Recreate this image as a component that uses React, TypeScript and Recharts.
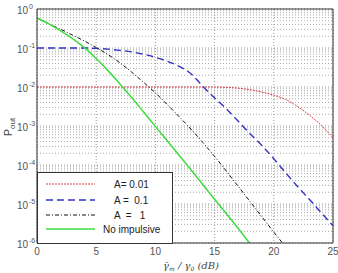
import type { FC } from 'react';
import {
  LineChart,
  Line,
  XAxis,
  YAxis,
  CartesianGrid,
  ReferenceLine,
  Legend,
} from 'recharts';

// SNR axis (dB)
const snrDb = [0, 1, 2, 3, 4, 5, 6, 7, 8, 9, 10, 11, 12, 13, 14, 15, 16, 17, 18, 19, 20, 21, 22, 23, 24, 25];

// log10(Pout), one entry per snrDb point
const logA001 = [-2, -2, -2, -2, -2, -2, -2, -2, -2, -2, -2, -2, -2, -2, -2, -2, -2.01, -2.03, -2.07, -2.13, -2.21, -2.32, -2.5, -2.72, -2.98, -3.3];
const logA01 = [-1, -1, -1, -1, -1, -1.01, -1.03, -1.06, -1.1, -1.16, -1.24, -1.34, -1.47, -1.66, -1.98, -2.28, -2.56, -2.88, -3.2, -3.5, -3.84, -4.2, -4.55, -4.88, -5.22, -5.56];
const logA1 = [-0.23, -0.38, -0.52, -0.67, -0.82, -0.99, -1.17, -1.38, -1.62, -1.88, -2.15, -2.45, -2.76, -3.08, -3.42, -3.78, -4.16, -4.55, -4.94, -5.33, -5.72, -6.1, null, null, null, null];
const logNoImp = [-0.23, -0.38, -0.56, -0.76, -0.99, -1.27, -1.58, -1.92, -2.27, -2.64, -3.01, -3.38, -3.75, -4.12, -4.5, -4.88, -5.25, -5.63, -6.02, null, null, null, null, null, null, null];

const xTicks = [0, 5, 10, 15, 20, 25];
const yTicks = [1e-6, 1e-5, 1e-4, 1e-3, 1e-2, 1e-1, 1];

const series = [
  { key: 'a001', name: 'A= 0.01', color: '#d8404c', dash: '2 1', width: 1, textX: 77 },
  { key: 'a01', name: 'A =  0.1', color: '#3232c4', dash: '7 4', width: 1.4, textX: 77 },
  { key: 'a1', name: 'A  =   1', color: '#111111', dash: '4 2 1 2', width: 1, textX: 77 },
  { key: 'none', name: 'No impulsive', color: '#3fdc3f', dash: undefined, width: 1.5, textX: 66 },
];

const toP = (v: number | null) => (v === null ? null : Math.pow(10, v));

const data = snrDb.map((snr, i) => ({
  snr,
  a001: toP(logA001[i]),
  a01: toP(logA01[i]),
  a1: toP(logA1[i]),
  none: toP(logNoImp[i]),
}));

// minor log grid lines (2..9 x 10^n)
const minorY: number[] = [];
for (let e = -6; e < 0; e++) {
  for (let k = 2; k <= 9; k++) minorY.push(k * Math.pow(10, e));
}

const tickFont = '"Liberation Sans", Arial, sans-serif';

const LogTick: FC<any> = ({ x, y, payload }) => {
  const exp = Math.round(Math.log10(payload.value));
  return (
    <g fill="#555" fontFamily={tickFont}>
      <text x={x - 1} y={y + 4.5} textAnchor="end" fontSize={10}>
        10
      </text>
      <text x={x} y={y} fontSize={7}>
        {exp}
      </text>
    </g>
  );
};

const XLabel: FC<any> = () => (
  <text
    x={191}
    y={269}
    textAnchor="middle"
    fontFamily='"DejaVu Serif", serif'
    fontStyle="italic"
    fontSize={10}
    fill="#444"
  >
    <tspan>γ̄</tspan>
    <tspan fontSize={6} dy={2}>m</tspan>
    <tspan dy={-2}> / γ</tspan>
    <tspan fontSize={6} dy={2}>0</tspan>
    <tspan dy={-2}>  (dB)</tspan>
  </text>
);

const YLabel: FC<any> = () => (
  <text
    transform="translate(12,127) rotate(-90)"
    textAnchor="middle"
    fontFamily={tickFont}
    fontSize={11}
    fill="#444"
  >
    <tspan>P</tspan>
    <tspan fontSize={8} dy={3}>out</tspan>
  </text>
);

const LegendBox: FC = () => (
  <svg width={136} height={72} style={{ display: 'block' }}>
    <rect x={0.5} y={0.5} width={135} height={71} fill="#fff" stroke="#333" />
    {series.map((s, i) => {
      const y = [12, 28, 43, 57][i];
      return (
        <g key={s.key}>
          <line x1={9} x2={58} y1={y} y2={y} stroke={s.color} strokeWidth={s.width} strokeDasharray={s.dash} />
          <text
            x={s.textX}
            y={y + 4}
            fontSize={10}
            fontFamily={tickFont}
            fill="#222"
            style={{ whiteSpace: 'pre' }}
          >
            {s.name}
          </text>
        </g>
      );
    })}
  </svg>
);

const App: FC = () => {
  return (
    <div style={{ position: 'absolute', left: 0, top: 0, background: '#fff' }}>
      <LineChart width={338} height={273} data={data} margin={{ top: 9, right: 5, bottom: 0, left: 0 }}>
        <CartesianGrid stroke="#999" strokeDasharray="1 2" />
        {minorY.map((v) => (
          <ReferenceLine key={v} y={v} stroke="#aaa" strokeDasharray="1 2" />
        ))}
        <XAxis
          dataKey="snr"
          type="number"
          domain={[0, 25]}
          ticks={xTicks}
          height={30}
          tickSize={3}
          tickLine={false}
          axisLine={{ stroke: '#333' }}
          tick={{ fontSize: 10, fill: '#555', fontFamily: tickFont }}
          label={<XLabel />}
        />
        <YAxis
          type="number"
          scale="log"
          domain={[1e-6, 1]}
          ticks={yTicks}
          allowDataOverflow
          width={37}
          tickLine={false}
          axisLine={{ stroke: '#333' }}
          tick={<LogTick />}
          label={<YLabel />}
        />
        <ReferenceLine y={1} stroke="#333" />
        <ReferenceLine x={25} stroke="#333" />
        {series.map((s) => (
          <Line
            key={s.key}
            dataKey={s.key}
            name={s.name}
            type="monotone"
            stroke={s.color}
            strokeWidth={s.width}
            strokeDasharray={s.dash}
            dot={false}
            isAnimationActive={false}
          />
        ))}
        <Legend
          layout="horizontal"
          verticalAlign="middle"
          align="center"
          content={<LegendBox />}
          wrapperStyle={{ left: 37, top: 172, width: 136, height: 72 }}
        />
      </LineChart>
    </div>
  );
};

export default App;
